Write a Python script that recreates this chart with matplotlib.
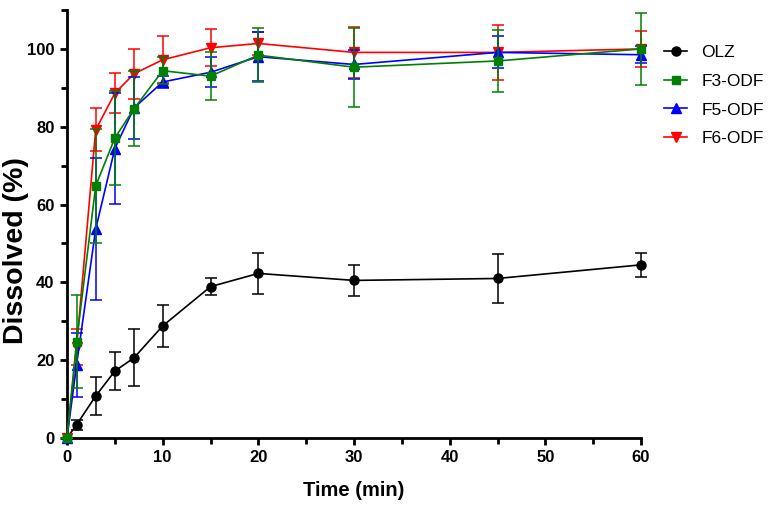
import matplotlib
matplotlib.use("Agg")
import matplotlib.pyplot as plt
from matplotlib import font_manager
from matplotlib.ticker import MultipleLocator

# ---------------- data ----------------
time_min = [0, 1, 3, 5, 7, 10, 15, 20, 30, 45, 60]

olz = [0, 3.4, 10.8, 17.2, 20.6, 28.8, 38.9, 42.3, 40.5, 41.0, 44.5]
olz_err = [0, 1.3, 4.8, 4.8, 7.3, 5.3, 2.2, 5.2, 3.9, 6.4, 3.1]

f3 = [0, 24.8, 64.8, 77.1, 84.6, 94.4, 93.0, 98.4, 95.3, 96.9, 100.0]
f3_err = [0, 11.9, 14.7, 12.2, 9.6, 3.5, 6.2, 7.0, 10.2, 8.0, 9.2]

f5 = [0, 18.8, 53.7, 74.4, 84.8, 91.5, 94.0, 98.0, 96.0, 99.1, 98.5]
f5_err = [0, 8.2, 18.2, 14.2, 8.0, 1.5, 3.8, 6.3, 3.8, 4.1, 2.2]

f6 = [0, 23.4, 79.2, 88.6, 93.6, 97.2, 100.3, 101.4, 99.1, 99.1, 100.0]
f6_err = [0, 4.6, 5.5, 5.2, 6.5, 6.0, 4.8, 3.0, 6.6, 7.0, 4.7]

labels = ["OLZ", "F3-ODF", "F5-ODF", "F6-ODF"]

# ---------------- fonts ----------------
avail = {f.name for f in font_manager.fontManager.ttflist}
regular = "Liberation Sans" if "Liberation Sans" in avail else "DejaVu Sans"

W, H = 772, 508
fig = plt.figure(figsize=(W / 100, H / 100), dpi=100)
ax = fig.add_axes([67 / W, 1 - 438 / H, (641 - 67) / W, (438 - 10) / H])

series = [
    (olz, olz_err, "black", "o", labels[0], 2),
    (f6, f6_err, "#FF0000", "v", labels[3], 3),
    (f5, f5_err, "#0000FF", "^", labels[2], 4),
    (f3, f3_err, "#008000", "s", labels[1], 5),
]

handles = {}
for y, e, c, m, lab, z in series:
    ax.errorbar(time_min, y, yerr=e, fmt="none", ecolor=c, elinewidth=1.1,
                capsize=4, capthick=1.1, zorder=z - 0.5, clip_on=False)
    h, = ax.plot(time_min, y, color=c, marker=m, markersize=6.5 if m != "s" else 6,
                 linewidth=1.2, label=lab, zorder=z, clip_on=False)
    handles[lab] = h

ax.set_xlim(0, 60)
ax.set_ylim(0, 110)
ax.xaxis.set_major_locator(MultipleLocator(10))
ax.xaxis.set_minor_locator(MultipleLocator(5))
ax.yaxis.set_major_locator(MultipleLocator(20))
ax.yaxis.set_minor_locator(MultipleLocator(10))

for s in ["top", "right"]:
    ax.spines[s].set_visible(False)
for s in ["left", "bottom"]:
    ax.spines[s].set_linewidth(2)
ax.tick_params(which="major", length=5, width=2, direction="out", pad=4)
ax.tick_params(which="minor", length=4, width=2, direction="out")

for lbl in ax.get_xticklabels() + ax.get_yticklabels():
    lbl.set_fontfamily(regular)
    lbl.set_fontweight("bold")
    lbl.set_fontsize(12)

ax.set_xlabel("Time (min)", fontfamily=regular, fontweight="bold", fontsize=14.5)
ax.xaxis.set_label_coords(0.5, -(491 - 438) / 428)
ax.set_ylabel("Dissolved (%)", fontfamily=regular, fontweight="bold", fontsize=20.5)
ax.yaxis.set_label_coords(-(67 - 16) / 574, (438 - 251) / 428)
ax.yaxis.label.set_verticalalignment("center")
ax.xaxis.label.set_verticalalignment("center")

fig.legend([handles[l] for l in labels], labels, loc="upper left",
           bbox_to_anchor=(664 / W, 1 - 45 / H), frameon=False,
           prop={"family": regular, "size": 12.5},
           handlelength=1.35, handletextpad=0.8, labelspacing=0.78,
           borderpad=0, borderaxespad=0)

fig.savefig("out.png", dpi=100)
